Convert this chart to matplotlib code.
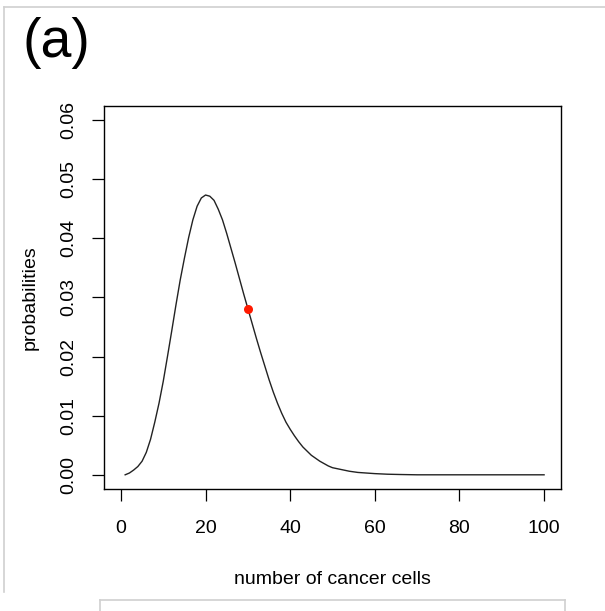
import matplotlib
matplotlib.use("Agg")
import matplotlib.pyplot as plt
from matplotlib.lines import Line2D

plt.rcParams['font.family'] = ['Liberation Sans', 'DejaVu Sans']

# values (number of cells, probability)
cells = [1, 2, 3, 4, 5, 6, 7, 8, 9, 10, 11, 12, 13, 14, 15, 16, 17, 18, 19, 20,
         21, 22, 23, 24, 25, 26, 27, 28, 29, 30, 31, 32, 33, 34, 35, 36, 37, 38,
         39, 40, 41, 42, 43, 44, 45, 46, 47, 48, 49, 50, 52, 54, 56, 58, 60, 63,
         66, 70, 80, 90, 100]
probs = [0.0000, 0.0003, 0.0008, 0.0014, 0.0023, 0.0038, 0.0060, 0.0089, 0.0121,
         0.0158, 0.0200, 0.0243, 0.0287, 0.0329, 0.0366, 0.0401, 0.0431, 0.0454,
         0.0468, 0.0473, 0.0471, 0.0464, 0.0449, 0.0431, 0.0408, 0.0383, 0.0358,
         0.0332, 0.0306, 0.0281, 0.0256, 0.0231, 0.0207, 0.0184, 0.0161, 0.0140,
         0.0121, 0.0104, 0.0089, 0.0077, 0.0066, 0.0056, 0.0047, 0.0040, 0.0033,
         0.0028, 0.0023, 0.0019, 0.0015, 0.0012, 0.0009, 0.0006, 0.0004, 0.0003,
         0.0002, 0.0001, 0.00005, 0.0, 0.0, 0.0, 0.0]

obs_x = 30
obs_y = 0.0281

xticks = [0, 20, 40, 60, 80, 100]
yticks = [0.00, 0.01, 0.02, 0.03, 0.04, 0.05, 0.06]

fig = plt.figure(figsize=(6.05, 6.11), dpi=100)
ax = fig.add_axes([104/605, 1-489/611, (561-104)/605, (489-105.7)/611])

ax.plot(cells, probs, color='#222222', lw=1.0)
ax.plot(obs_x, obs_y, 'o', color='#ff1a00', ms=6.5, mec='none')

ax.set_xlim(-4, 104)
ax.set_ylim(-0.0024, 0.0624)
ax.set_xticks(xticks)
ax.set_xticklabels([str(t) for t in xticks])
ax.set_yticks(yticks)
ax.set_yticklabels(['%.2f' % t for t in yticks], rotation=90, va='center')
ax.tick_params(direction='out', length=8.6, width=0.9, labelsize=14, pad=11)
ax.tick_params(axis='x', pad=14)
for s in ax.spines.values():
    s.set_linewidth(1.0)

ax.set_xlabel('number of cancer cells', fontsize=14, labelpad=24)
ax.set_ylabel('probabilities', fontsize=14, labelpad=15)

fig.text(22/605, 1-43/611, '(a)', fontsize=40, va='center', ha='left')

# light gray frame around the panel
g = '#d0d0d0'
fig.add_artist(Line2D([4/605, 1], [1-7/611, 1-7/611], color=g, lw=1.2))
fig.add_artist(Line2D([4/605, 4/605], [1-7/611, 1-592/611], color=g, lw=1.2))
fig.add_artist(Line2D([100/605, 565/605], [1-600/611, 1-600/611], color=g, lw=1.2))
fig.add_artist(Line2D([100/605, 100/605], [1-600/611, 0], color=g, lw=1.2))
fig.add_artist(Line2D([565/605, 565/605], [1-600/611, 0], color=g, lw=1.2))

fig.savefig('out.png', dpi=100)
